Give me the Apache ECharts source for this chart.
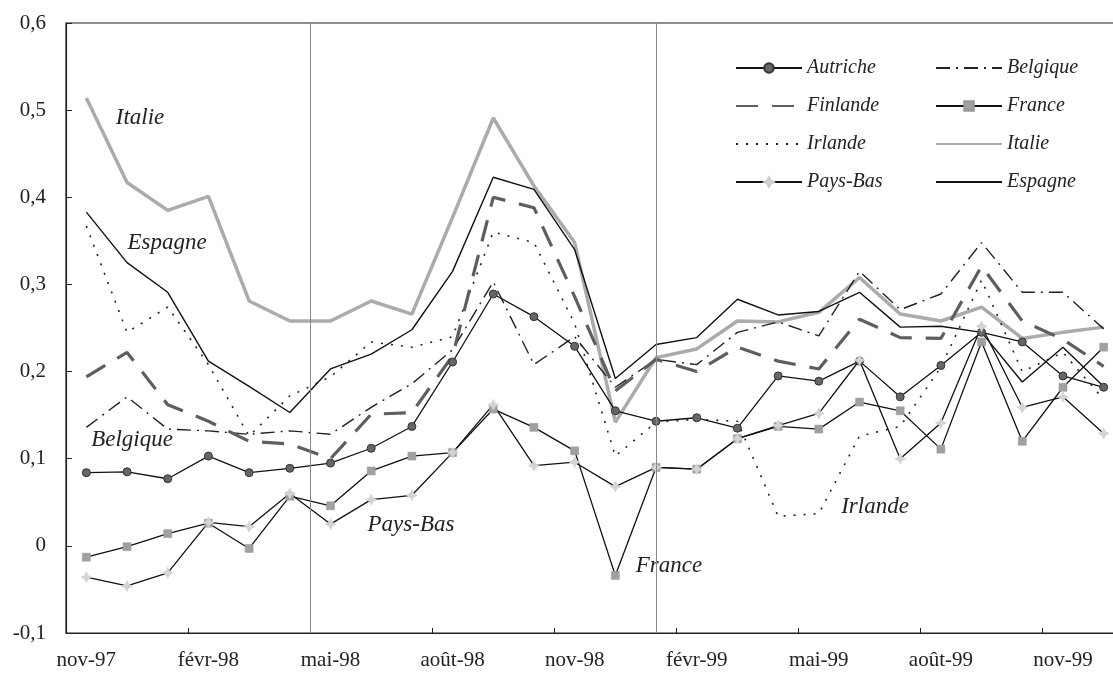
<!DOCTYPE html>
<html>
<head>
<meta charset="utf-8">
<script src="https://cdn.jsdelivr.net/npm/echarts@6/dist/echarts.min.js"></script>
<style>
html,body{margin:0;padding:0;background:#fff;}
#chart{width:1113px;height:678px;}
</style>
</head>
<body>
<div id="chart"></div>
<script>
// ---- data ----
const months = ['nov-97','déc-97','janv-98','févr-98','mars-98','avr-98','mai-98','juin-98','juil-98','août-98','sept-98','oct-98','nov-98','déc-98','janv-99','févr-99','mars-99','avr-99','mai-99','juin-99','juil-99','août-99','sept-99','oct-99','nov-99','déc-99'];
const yTicks = [-0.1, 0, 0.1, 0.2, 0.3, 0.4, 0.5, 0.6];
const autriche = [0.084,0.085,0.077,0.103,0.084,0.089,0.095,0.112,0.137,0.211,0.289,0.263,0.229,0.155,0.143,0.147,0.135,0.195,0.189,0.212,0.171,0.207,0.245,0.234,0.195,0.182];
const belgique = [0.136,0.171,0.134,0.132,0.128,0.132,0.128,0.159,0.186,0.225,0.303,0.208,0.240,0.182,0.214,0.208,0.245,0.257,0.241,0.315,0.271,0.289,0.348,0.291,0.291,0.249];
const finlande = [0.194,0.222,0.162,0.143,0.120,0.117,0.100,0.151,0.153,0.218,0.400,0.388,0.286,0.178,0.214,0.200,0.228,0.212,0.203,0.260,0.239,0.238,0.321,0.258,0.237,0.206];
const france = [-0.013,-0.001,0.014,0.026,-0.003,0.057,0.046,0.086,0.103,0.107,0.157,0.136,0.109,-0.034,0.090,0.088,0.123,0.137,0.134,0.165,0.155,0.111,0.234,0.120,0.182,0.228];
const irlande = [0.367,0.245,0.274,0.208,0.126,0.172,0.194,0.234,0.228,0.240,0.360,0.348,0.255,0.103,0.142,0.145,0.143,0.034,0.037,0.126,0.137,0.205,0.305,0.200,0.222,0.168];
const italie = [0.514,0.417,0.385,0.401,0.281,0.258,0.258,0.281,0.266,0.377,0.491,0.413,0.348,0.142,0.216,0.226,0.258,0.257,0.268,0.308,0.266,0.258,0.274,0.238,0.245,0.251];
const paysBas = [-0.036,-0.046,-0.031,0.027,0.022,0.060,0.025,0.053,0.058,0.107,0.162,0.092,0.096,0.068,0.090,0.088,0.123,0.138,0.152,0.213,0.100,0.141,0.252,0.159,0.171,0.129];
const espagne = [0.383,0.325,0.291,0.212,0.183,0.153,0.203,0.220,0.248,0.315,0.423,0.409,0.340,0.192,0.231,0.239,0.283,0.265,0.269,0.291,0.251,0.252,0.245,0.188,0.228,0.183];
const eventLines = [5.5, 14];   // month positions (index) of the two vertical reference lines
const legendLeft = ['Autriche','Finlande','Irlande','Pays-Bas'];
const legendRight = ['Belgique','France','Italie','Espagne'];
const withMarkers = ['Autriche','France','Pays-Bas'];

// ---- chart ----
const FONT = '"Liberation Serif", "Times New Roman", serif';
const fmt = v => Math.abs(v) < 1e-9 ? '0' : v.toFixed(1).replace('.', ',');
const starPath = 'path://M5,0 L6.7,3.3 L10,5 L6.7,6.7 L5,10 L3.3,6.7 L0,5 L3.3,3.3 Z';

function ln(name, data, lineStyle, extra) {
  return Object.assign({
    name, type: 'line', data, xAxisIndex: 0, yAxisIndex: 0,
    symbol: 'none', showSymbol: false, animation: false, silent: true,
    lineStyle: Object.assign({ color: '#111', width: 1.3, type: 'solid' }, lineStyle),
    itemStyle: { color: lineStyle.color || '#111' }
  }, extra || {});
}

const series = [
  ln('Italie', italie, { color: '#ababab', width: 3.5 }),
  ln('Espagne', espagne, { color: '#111', width: 1.4 }),
  ln('Irlande', irlande, { color: '#222', width: 1.6, type: [2, 8] }),
  ln('Belgique', belgique, { color: '#222', width: 1.4, type: [14, 6, 2, 6] }),
  ln('Finlande', finlande, { color: '#5e5e5e', width: 3.2, type: [22, 14] }),
  ln('Autriche', autriche, { color: '#111', width: 1.3 }, {
    symbol: 'circle', showSymbol: true, symbolSize: 8,
    itemStyle: { color: '#666', borderColor: '#333', borderWidth: 1 }
  }),
  ln('France', france, { color: '#111', width: 1.3 }, {
    symbol: 'rect', showSymbol: true, symbolSize: 8,
    itemStyle: { color: '#a0a0a0', borderColor: '#999', borderWidth: 0.5 }
  }),
  ln('Pays-Bas', paysBas, { color: '#111', width: 1.3 }, {
    symbol: starPath, showSymbol: true, symbolSize: 11,
    itemStyle: { color: '#d4d4d4', borderColor: '#cccccc', borderWidth: 0.5 }
  }),
  {
    type: 'line', xAxisIndex: 1, yAxisIndex: 0, data: [], silent: true, animation: false,
    markLine: {
      silent: true, symbol: 'none', animation: false,
      label: { show: false },
      lineStyle: { color: '#888', width: 1, type: 'solid' },
      data: eventLines.map(v => ({ xAxis: v }))
    }
  }
];

const legendItems = names => names.map(n => withMarkers.includes(n)
  ? { name: n }
  : { name: n, itemStyle: { color: 'rgba(0,0,0,0)', borderColor: 'rgba(0,0,0,0)', borderWidth: 0, opacity: 0 } });

const legendCommon = {
  orient: 'vertical', padding: 0, itemWidth: 66, itemHeight: 12, itemGap: 18,
  selectedMode: false,
  textStyle: { fontFamily: FONT, fontStyle: 'italic', fontSize: 20, color: '#222', lineHeight: 20 }
};

const annStyle = { fontFamily: FONT, fontStyle: 'italic', fontSize: 23, fill: '#222', align: 'center', verticalAlign: 'middle' };
const ann = (text, x, y) => ({ type: 'text', x, y, silent: true, style: Object.assign({ text }, annStyle) });

const option = {
  backgroundColor: '#fff',
  animation: false,
  grid: {
    left: 66, top: 23, width: 1058, bottom: 45, show: true,
    borderColor: '#222', borderWidth: 1.2,
    containLabel: false, outerBoundsMode: 'none'
  },
  xAxis: [
    {
      type: 'category', data: months, boundaryGap: true,
      axisLine: { show: true, onZero: false, lineStyle: { color: '#222', width: 1.2 } },
      axisTick: { show: true, inside: true, length: 5, interval: 2, lineStyle: { color: '#222' } },
      axisLabel: { interval: 2, margin: 17, fontFamily: FONT, fontSize: 21, color: '#222' },
      splitLine: { show: false }
    },
    { type: 'value', min: -0.5, max: 25.5, show: false, axisLine: { onZero: false }, splitLine: { show: false } }
  ],
  yAxis: {
    type: 'value', min: yTicks[0], max: yTicks[yTicks.length - 1], interval: 0.1,
    axisLine: { show: true, onZero: false, lineStyle: { color: '#222', width: 1.2 } },
    axisTick: { show: true, inside: true, length: 6, lineStyle: { color: '#222' } },
    axisLabel: { margin: 20, fontFamily: FONT, fontSize: 21, color: '#222', formatter: fmt },
    splitLine: { show: false }
  },
  legend: [
    Object.assign({ left: 735, top: 58, data: legendItems(legendLeft) }, legendCommon),
    Object.assign({ left: 935, top: 58, data: legendItems(legendRight) }, legendCommon)
  ],
  series,
  graphic: [
    ann('Italie', 140, 118),
    ann('Espagne', 167, 243),
    ann('Belgique', 132, 440),
    ann('Pays-Bas', 411, 525),
    ann('France', 669, 566),
    ann('Irlande', 875, 507)
  ]
};

const chart = echarts.init(document.getElementById('chart'), null, { renderer: 'canvas' });
chart.setOption(option);
</script>
</body>
</html>
